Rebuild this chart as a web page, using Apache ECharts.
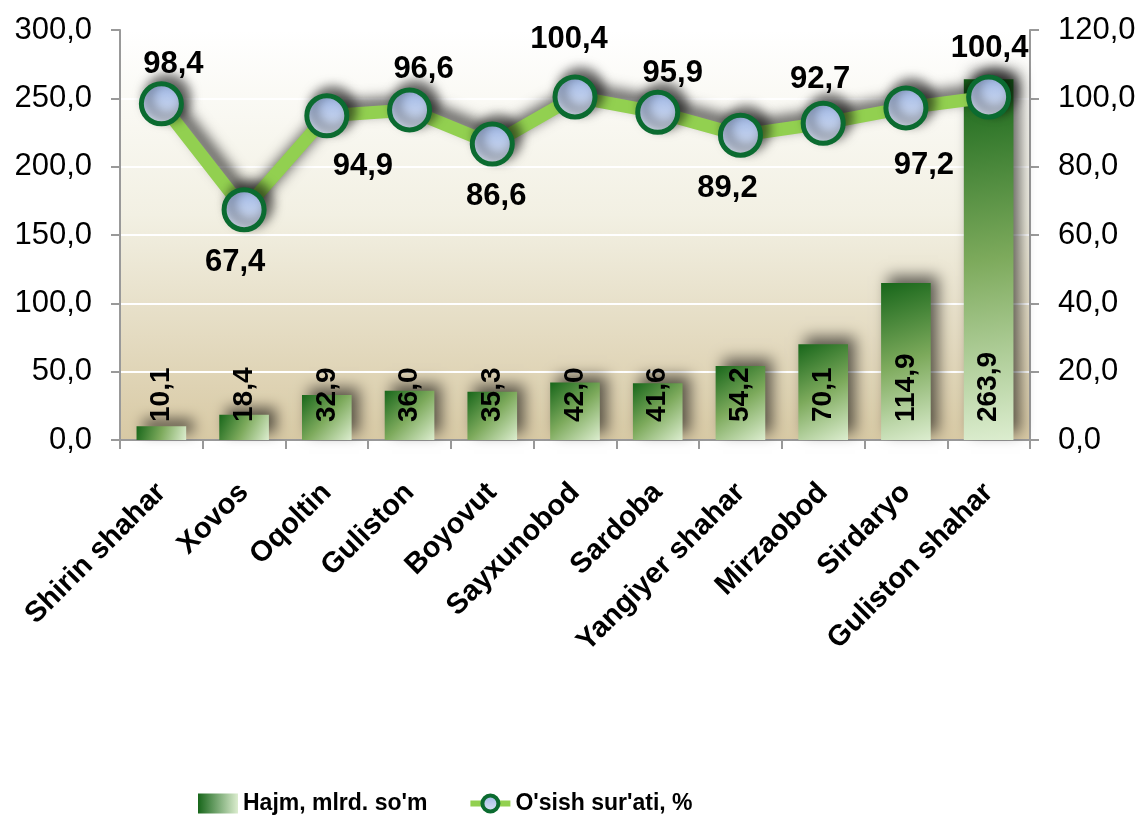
<!DOCTYPE html>
<html>
<head>
<meta charset="utf-8">
<script src="https://cdn.jsdelivr.net/npm/echarts@6/dist/echarts.min.js"></script>
<style>
  html, body { margin: 0; padding: 0; background: #fff; }
  #chart { width: 1141px; height: 821px; }
</style>
</head>
<body>
<div id="chart"></div>
<script>
// hududlar
const categories = ["Shirin shahar", "Xovos", "Oqoltin", "Guliston", "Boyovut", "Sayxunobod",
  "Sardoba", "Yangiyer shahar", "Mirzaobod", "Sirdaryo", "Guliston shahar"];
// hajm, mlrd. so'm
const volume = [10.1, 18.4, 32.9, 36.0, 35.3, 42.0, 41.6, 54.2, 70.1, 114.9, 263.9];
// o'sish sur'ati, %
const growth = [98.4, 67.4, 94.9, 96.6, 86.6, 100.4, 95.9, 89.2, 92.7, 97.2, 100.4];
// label joylashuvi (nuqta markazidan, px)
const labelOffset = [[12, -39], [-9, 53], [36, 51], [14, -40], [4, 52], [-6, -58],
  [15, -39], [-13, 53], [-3, -44], [18, 58], [1, -49]];

const seriesNames = ["Hajm, mlrd. so'm", "O'sish sur'ati, %"];

const FONT = "'Liberation Sans', Arial, sans-serif";
const fmt = (v) => Number(v).toFixed(1).replace(".", ",");

const chart = echarts.init(document.getElementById("chart"));

const barGrad = new echarts.graphic.LinearGradient(0, 0, 1, 1, [
  { offset: 0, color: "#17661a" },
  { offset: 0.5, color: "#7daa5c" },
  { offset: 1, color: "#dcedcf" },
]);

chart.setOption({
  animation: false,
  textStyle: { fontFamily: FONT },
  grid: {
    left: 120,
    right: 111,
    top: 30,
    bottom: 381,
    show: true,
    borderWidth: 0,
    backgroundColor: new echarts.graphic.LinearGradient(0, 0, 0, 1, [
      { offset: 0, color: "#ffffff" },
      { offset: 0.45, color: "#f2f0e3" },
      { offset: 1, color: "#d8c9a4" },
    ]),
  },
  legend: {
    bottom: 1,
    left: 193,
    itemGap: 40,
    itemWidth: 40,
    itemHeight: 20,
    textStyle: { fontSize: 23, fontWeight: "bold", color: "#000", fontFamily: FONT },
    data: [
      {
        name: seriesNames[0],
        icon: "rect",
        itemStyle: {
          color: new echarts.graphic.LinearGradient(0, 0, 1, 0, [
            { offset: 0, color: "#17661a" },
            { offset: 1, color: "#dcedcf" },
          ]),
          shadowBlur: 0,
          shadowOffsetX: 0,
          shadowOffsetY: 0,
        },
      },
      {
        name: seriesNames[1],
        itemStyle: { borderWidth: 4, shadowBlur: 0, shadowOffsetX: 0, shadowOffsetY: 0 },
        lineStyle: { width: 6, shadowBlur: 0, shadowOffsetX: 0, shadowOffsetY: 0 },
      },
    ],
  },
  xAxis: {
    type: "category",
    data: categories,
    axisLine: { lineStyle: { color: "#999", width: 2 } },
    axisTick: { show: true, length: 9, lineStyle: { color: "#999", width: 2 } },
    axisLabel: {
      rotate: 45,
      margin: 48,
      fontSize: 29,
      fontWeight: "bold",
      color: "#000",
      interval: 0,
    },
  },
  yAxis: [
    {
      type: "value",
      min: 0,
      max: 300,
      interval: 50,
      axisLine: { show: true, lineStyle: { color: "#999", width: 2 } },
      axisTick: { show: true, length: 9, lineStyle: { color: "#999", width: 2 } },
      axisLabel: { fontSize: 31, color: "#000", margin: 28, formatter: fmt },
      splitLine: { lineStyle: { color: "#ffffff", width: 2 } },
    },
    {
      type: "value",
      min: 0,
      max: 120,
      interval: 20,
      position: "right",
      axisLine: { show: true, lineStyle: { color: "#999", width: 2 } },
      axisTick: { show: true, length: 9, lineStyle: { color: "#999", width: 2 } },
      axisLabel: { fontSize: 31, color: "#000", margin: 28, formatter: fmt },
      splitLine: { show: false },
    },
  ],
  series: [
    {
      name: seriesNames[0],
      type: "bar",
      data: volume,
      barWidth: "60%",
      yAxisIndex: 0,
      itemStyle: {
        color: barGrad,
        shadowColor: "rgba(0,0,0,0.6)",
        shadowBlur: 14,
        shadowOffsetX: 7,
        shadowOffsetY: -7,
      },
      label: {
        show: true,
        position: "insideBottom",
        rotate: 90,
        align: "left",
        verticalAlign: "middle",
        distance: 18,
        fontSize: 28,
        fontWeight: "bold",
        color: "#000",
        formatter: (p) => fmt(p.value),
      },
    },
    {
      name: seriesNames[1],
      type: "line",
      yAxisIndex: 1,
      data: growth.map((v, i) => ({
        value: v,
        label: { offset: labelOffset[i] },
      })),
      symbol: "circle",
      symbolSize: 40,
      lineStyle: {
        color: "#92d050",
        width: 13,
        shadowColor: "rgba(0,0,0,0.7)",
        shadowBlur: 14,
        shadowOffsetX: 6,
        shadowOffsetY: -7,
      },
      itemStyle: {
        color: new echarts.graphic.LinearGradient(0, 0, 0, 1, [
          { offset: 0, color: "#9bb4e4" },
          { offset: 1, color: "#e2e9f6" },
        ]),
        borderColor: "#0b6b30",
        borderWidth: 5,
        shadowColor: "rgba(0,0,0,0.6)",
        shadowBlur: 12,
        shadowOffsetX: 6,
        shadowOffsetY: -6,
      },
      label: {
        show: true,
        position: "inside",
        align: "center",
        verticalAlign: "middle",
        fontSize: 31,
        fontWeight: "bold",
        color: "#000",
        formatter: (p) => fmt(p.value),
      },
      z: 5,
    },
  ],
});

window.addEventListener("resize", function () {
  chart.resize();
});
</script>
</body>
</html>
